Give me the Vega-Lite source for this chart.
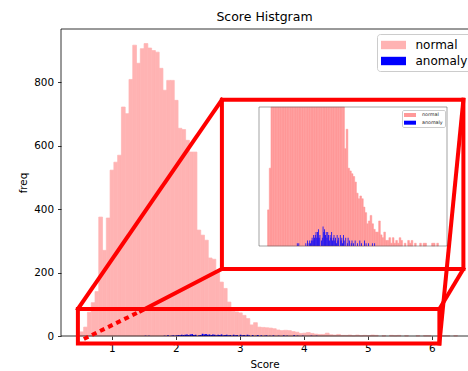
{
  "$schema": "https://vega.github.io/schema/vega-lite/v6.json",
  "width": 407,
  "height": 307,
  "autosize": {"type": "none"},
  "padding": {"left": 61, "top": 29, "right": 0, "bottom": 35},
  "background": "white",
  "title": {"text": "Score Histgram", "fontSize": 12.5, "fontWeight": "normal", "font": "DejaVu Sans", "color": "black", "anchor": "middle", "frame": "group", "baseline": "alphabetic", "offset": 7.5, "dy": 12},
  "config": {
    "font": "DejaVu Sans",
    "view": {"stroke": null},
    "axis": {"grid": false, "labelFont": "DejaVu Sans", "titleFont": "DejaVu Sans", "labelColor": "black", "titleColor": "black", "titleFontWeight": "normal", "tickColor": "black", "domainColor": "black", "zindex": 1}
  },
  "datasets": {
    "normal": [
      {"lo": 0.500, "hi": 0.559, "n": 13}, {"lo": 0.559, "hi": 0.618, "n": 28}, {"lo": 0.618, "hi": 0.677, "n": 75},
      {"lo": 0.677, "hi": 0.736, "n": 105}, {"lo": 0.736, "hi": 0.795, "n": 140}, {"lo": 0.795, "hi": 0.854, "n": 375},
      {"lo": 0.854, "hi": 0.913, "n": 270}, {"lo": 0.913, "hi": 0.972, "n": 372}, {"lo": 0.972, "hi": 1.031, "n": 523},
      {"lo": 1.031, "hi": 1.090, "n": 548}, {"lo": 1.090, "hi": 1.149, "n": 570}, {"lo": 1.149, "hi": 1.208, "n": 722},
      {"lo": 1.208, "hi": 1.267, "n": 701}, {"lo": 1.267, "hi": 1.326, "n": 809}, {"lo": 1.326, "hi": 1.385, "n": 917},
      {"lo": 1.385, "hi": 1.444, "n": 860}, {"lo": 1.444, "hi": 1.503, "n": 906}, {"lo": 1.503, "hi": 1.562, "n": 922},
      {"lo": 1.562, "hi": 1.621, "n": 908}, {"lo": 1.621, "hi": 1.680, "n": 900}, {"lo": 1.680, "hi": 1.739, "n": 895},
      {"lo": 1.739, "hi": 1.798, "n": 844}, {"lo": 1.798, "hi": 1.857, "n": 775}, {"lo": 1.857, "hi": 1.916, "n": 806},
      {"lo": 1.916, "hi": 1.975, "n": 806}, {"lo": 1.975, "hi": 2.034, "n": 743}, {"lo": 2.034, "hi": 2.093, "n": 655},
      {"lo": 2.093, "hi": 2.152, "n": 651}, {"lo": 2.152, "hi": 2.211, "n": 617}, {"lo": 2.211, "hi": 2.270, "n": 580},
      {"lo": 2.270, "hi": 2.329, "n": 580}, {"lo": 2.329, "hi": 2.388, "n": 334}, {"lo": 2.388, "hi": 2.447, "n": 318},
      {"lo": 2.447, "hi": 2.506, "n": 302}, {"lo": 2.506, "hi": 2.565, "n": 246}, {"lo": 2.565, "hi": 2.624, "n": 242},
      {"lo": 2.624, "hi": 2.683, "n": 205}, {"lo": 2.683, "hi": 2.742, "n": 170}, {"lo": 2.742, "hi": 2.801, "n": 150},
      {"lo": 2.801, "hi": 2.860, "n": 107}, {"lo": 2.860, "hi": 2.919, "n": 78}, {"lo": 2.919, "hi": 2.978, "n": 76},
      {"lo": 2.978, "hi": 3.037, "n": 73}, {"lo": 3.037, "hi": 3.096, "n": 65}, {"lo": 3.096, "hi": 3.155, "n": 55},
      {"lo": 3.155, "hi": 3.214, "n": 35}, {"lo": 3.214, "hi": 3.273, "n": 42}, {"lo": 3.273, "hi": 3.332, "n": 28},
      {"lo": 3.332, "hi": 3.391, "n": 27}, {"lo": 3.391, "hi": 3.450, "n": 26}, {"lo": 3.450, "hi": 3.509, "n": 25},
      {"lo": 3.509, "hi": 3.568, "n": 23}, {"lo": 3.568, "hi": 3.627, "n": 19}, {"lo": 3.627, "hi": 3.686, "n": 17},
      {"lo": 3.686, "hi": 3.745, "n": 18}, {"lo": 3.745, "hi": 3.804, "n": 17}, {"lo": 3.804, "hi": 3.863, "n": 14},
      {"lo": 3.863, "hi": 3.922, "n": 12}, {"lo": 3.922, "hi": 3.981, "n": 8}, {"lo": 3.981, "hi": 4.040, "n": 9},
      {"lo": 4.040, "hi": 4.099, "n": 11}, {"lo": 4.099, "hi": 4.158, "n": 8}, {"lo": 4.158, "hi": 4.217, "n": 6},
      {"lo": 4.217, "hi": 4.276, "n": 5}, {"lo": 4.276, "hi": 4.335, "n": 5}, {"lo": 4.335, "hi": 4.394, "n": 9},
      {"lo": 4.394, "hi": 4.453, "n": 4}, {"lo": 4.453, "hi": 4.512, "n": 3}, {"lo": 4.512, "hi": 4.571, "n": 5},
      {"lo": 4.571, "hi": 4.630, "n": 2}, {"lo": 4.630, "hi": 4.689, "n": 2}, {"lo": 4.689, "hi": 4.748, "n": 3},
      {"lo": 4.748, "hi": 4.807, "n": 1}, {"lo": 4.807, "hi": 4.866, "n": 3}, {"lo": 4.866, "hi": 4.925, "n": 1},
      {"lo": 4.925, "hi": 4.984, "n": 2}, {"lo": 4.984, "hi": 5.043, "n": 1}, {"lo": 5.043, "hi": 5.102, "n": 3},
      {"lo": 5.102, "hi": 5.161, "n": 2}, {"lo": 5.220, "hi": 5.279, "n": 1}, {"lo": 5.338, "hi": 5.397, "n": 2},
      {"lo": 5.397, "hi": 5.456, "n": 1}, {"lo": 5.456, "hi": 5.515, "n": 2}, {"lo": 5.574, "hi": 5.633, "n": 1},
      {"lo": 5.751, "hi": 5.810, "n": 1}, {"lo": 5.869, "hi": 5.928, "n": 1}, {"lo": 5.928, "hi": 5.987, "n": 1},
      {"lo": 6.164, "hi": 6.223, "n": 1}, {"lo": 6.223, "hi": 6.282, "n": 1}, {"lo": 6.341, "hi": 6.400, "n": 1}
    ],
    "anomaly": [
      {"lo": 1.512, "hi": 1.539, "n": 1}, {"lo": 1.566, "hi": 1.593, "n": 1}, {"lo": 1.809, "hi": 1.836, "n": 1},
      {"lo": 1.863, "hi": 1.890, "n": 2}, {"lo": 1.917, "hi": 1.944, "n": 1}, {"lo": 1.944, "hi": 1.971, "n": 2},
      {"lo": 1.971, "hi": 1.998, "n": 1}, {"lo": 1.998, "hi": 2.025, "n": 2}, {"lo": 2.025, "hi": 2.052, "n": 3},
      {"lo": 2.052, "hi": 2.079, "n": 2}, {"lo": 2.079, "hi": 2.106, "n": 4}, {"lo": 2.106, "hi": 2.133, "n": 3},
      {"lo": 2.133, "hi": 2.160, "n": 4}, {"lo": 2.160, "hi": 2.187, "n": 5}, {"lo": 2.187, "hi": 2.214, "n": 3},
      {"lo": 2.214, "hi": 2.241, "n": 5}, {"lo": 2.241, "hi": 2.268, "n": 6}, {"lo": 2.268, "hi": 2.295, "n": 3},
      {"lo": 2.295, "hi": 2.322, "n": 4}, {"lo": 2.349, "hi": 2.376, "n": 2}, {"lo": 2.376, "hi": 2.403, "n": 3},
      {"lo": 2.403, "hi": 2.430, "n": 7}, {"lo": 2.430, "hi": 2.457, "n": 5}, {"lo": 2.457, "hi": 2.484, "n": 6},
      {"lo": 2.484, "hi": 2.511, "n": 4}, {"lo": 2.511, "hi": 2.538, "n": 5}, {"lo": 2.538, "hi": 2.565, "n": 3},
      {"lo": 2.565, "hi": 2.592, "n": 5}, {"lo": 2.592, "hi": 2.619, "n": 4}, {"lo": 2.619, "hi": 2.646, "n": 2},
      {"lo": 2.646, "hi": 2.673, "n": 4}, {"lo": 2.673, "hi": 2.700, "n": 3}, {"lo": 2.700, "hi": 2.727, "n": 5},
      {"lo": 2.727, "hi": 2.754, "n": 2}, {"lo": 2.754, "hi": 2.781, "n": 3}, {"lo": 2.781, "hi": 2.808, "n": 4},
      {"lo": 2.808, "hi": 2.835, "n": 2}, {"lo": 2.835, "hi": 2.862, "n": 3}, {"lo": 2.862, "hi": 2.889, "n": 1},
      {"lo": 2.889, "hi": 2.916, "n": 4}, {"lo": 2.916, "hi": 2.943, "n": 2}, {"lo": 2.943, "hi": 2.970, "n": 3},
      {"lo": 2.997, "hi": 3.024, "n": 4}, {"lo": 3.024, "hi": 3.051, "n": 2}, {"lo": 3.051, "hi": 3.078, "n": 3},
      {"lo": 3.078, "hi": 3.105, "n": 1}, {"lo": 3.105, "hi": 3.132, "n": 4}, {"lo": 3.132, "hi": 3.159, "n": 2},
      {"lo": 3.186, "hi": 3.213, "n": 3}, {"lo": 3.240, "hi": 3.267, "n": 1}, {"lo": 3.267, "hi": 3.294, "n": 3},
      {"lo": 3.321, "hi": 3.348, "n": 2}, {"lo": 3.375, "hi": 3.402, "n": 1}, {"lo": 3.402, "hi": 3.429, "n": 2},
      {"lo": 3.456, "hi": 3.483, "n": 1}, {"lo": 3.510, "hi": 3.537, "n": 2}, {"lo": 3.591, "hi": 3.618, "n": 1},
      {"lo": 3.672, "hi": 3.699, "n": 2}, {"lo": 3.726, "hi": 3.753, "n": 1}, {"lo": 3.834, "hi": 3.861, "n": 2},
      {"lo": 3.888, "hi": 3.915, "n": 1}, {"lo": 3.969, "hi": 3.996, "n": 1}, {"lo": 4.104, "hi": 4.131, "n": 1},
      {"lo": 4.185, "hi": 4.212, "n": 1}
    ],
    "boxes": [
      {"box": "inset", "x0": 2.719, "x1": 6.492, "y0": 211.6, "y1": 745},
      {"box": "zoom", "x0": 0.469, "x1": 6.117, "y0": -23.7, "y1": 85.3}
    ],
    "links": [
      {"x0": 0.469, "y0": 85.3, "x1": 2.719, "y1": 745},
      {"x0": 6.117, "y0": 85.3, "x1": 6.492, "y1": 211.6},
      {"x0": 6.117, "y0": -23.7, "x1": 6.492, "y1": 745},
      {"x0": 1.453, "y0": 79, "x1": 2.719, "y1": 211.6}
    ],
    "hidden": [
      {"x0": 0.5625, "y0": -9.5, "x1": 1.453, "y1": 79}
    ]
  },
  "layer": [
    {
      "layer": [
        {
          "data": {"name": "normal"},
          "mark": {"type": "rect", "stroke": "#ffb3b3", "strokeWidth": 0.7},
          "encoding": {
            "x": {"field": "lo", "type": "quantitative", "scale": {"domain": [0.205, 6.564], "nice": false, "zero": false},
                  "axis": {"values": [1, 2, 3, 4, 5, 6], "format": "d", "title": "Score", "domain": false, "labelFontSize": 10.4, "titleFontSize": 10.4, "tickSize": 3.5, "tickWidth": 0.8, "labelPadding": 3.5, "titlePadding": 6, "labelFlush": false}},
            "x2": {"field": "hi"},
            "y": {"field": "n", "type": "quantitative", "scale": {"domain": [0, 968], "nice": false, "zero": false},
                  "axis": {"values": [0, 200, 400, 600, 800], "format": "d", "title": "freq", "domain": false, "labelFontSize": 10.4, "titleFontSize": 10.4, "tickSize": 3.5, "tickWidth": 0.8, "labelPadding": 4, "titlePadding": 5}},
            "y2": {"datum": 0},
            "color": {"datum": "normal", "type": "nominal",
                      "scale": {"domain": ["normal", "anomaly"], "range": ["#ffb3b3", "#0000ff"]},
                      "legend": {"title": null, "orient": "none", "legendX": 316, "legendY": 5, "direction": "vertical", "padding": 4, "fillColor": "rgba(255,255,255,0.8)", "strokeColor": "#cccccc", "cornerRadius": 3,
                                 "symbolType": "M-1.7857,-0.6L1.7857,-0.6L1.7857,0.6L-1.7857,0.6Z", "symbolSize": 196, "symbolOffset": 5.5, "symbolStrokeWidth": 0,
                                 "labelOffset": 15, "labelFontSize": 12, "labelFont": "DejaVu Sans", "labelColor": "black", "rowPadding": 3}}
          }
        },
        {
          "data": {"name": "anomaly"},
          "mark": {"type": "rect"},
          "encoding": {
            "x": {"field": "lo", "type": "quantitative"},
            "x2": {"field": "hi"},
            "y": {"field": "n", "type": "quantitative"},
            "y2": {"datum": 0},
            "color": {"datum": "anomaly", "type": "nominal"}
          }
        },
        {
          "data": {"values": [{}]},
          "mark": {"type": "rect", "fillOpacity": 0, "stroke": "black", "strokeWidth": 0.8},
          "encoding": {
            "x": {"datum": 0.205, "type": "quantitative"},
            "x2": {"datum": 6.695},
            "y": {"datum": 0, "type": "quantitative"},
            "y2": {"datum": 968}
          }
        },
        {
          "data": {"name": "boxes"},
          "transform": [{"filter": "datum.box == 'inset'"}],
          "mark": {"type": "rect", "fill": "white", "stroke": "#ff0000", "strokeWidth": 4},
          "encoding": {
            "x": {"field": "x0", "type": "quantitative"},
            "x2": {"field": "x1"},
            "y": {"field": "y0", "type": "quantitative"},
            "y2": {"field": "y1"}
          }
        },
        {
          "data": {"name": "boxes"},
          "transform": [{"filter": "datum.box == 'zoom'"}],
          "mark": {"type": "rect", "fillOpacity": 0, "stroke": "#ff0000", "strokeWidth": 4},
          "encoding": {
            "x": {"field": "x0", "type": "quantitative"},
            "x2": {"field": "x1"},
            "y": {"field": "y0", "type": "quantitative"},
            "y2": {"field": "y1"}
          }
        },
        {
          "data": {"name": "links"},
          "mark": {"type": "rule", "color": "#ff0000", "strokeWidth": 4, "strokeCap": "square"},
          "encoding": {
            "x": {"field": "x0", "type": "quantitative"},
            "y": {"field": "y0", "type": "quantitative"},
            "x2": {"field": "x1"},
            "y2": {"field": "y1"}
          }
        },
        {
          "data": {"name": "hidden"},
          "mark": {"type": "rule", "color": "#ff0000", "strokeWidth": 4, "strokeDash": [5, 4]},
          "encoding": {
            "x": {"field": "x0", "type": "quantitative"},
            "y": {"field": "y0", "type": "quantitative"},
            "x2": {"field": "x1"},
            "y2": {"field": "y1"}
          }
        }
      ]
    },
    {
      "layer": [
        {
          "data": {"name": "normal"},
          "mark": {"type": "rect", "stroke": "#ff9999", "strokeWidth": 0.5},
          "encoding": {
            "x": {"field": "lo", "type": "quantitative", "scale": {"domain": [0.205, 6.695], "range": [198, 386], "nice": false, "zero": false},
                  "axis": {"orient": "bottom", "offset": -90, "values": [1, 2, 3, 4, 5, 6], "format": "d", "title": "Score", "labelFontSize": 4.3, "titleFontSize": 4.6, "tickSize": 1.5, "tickWidth": 0.5, "domainWidth": 0.5, "domainColor": "#444444", "tickColor": "#444444", "labelColor": "#222222", "titleColor": "#222222", "labelPadding": 1.5, "titlePadding": 2.5, "labelFlush": false}},
            "x2": {"field": "hi"},
            "y": {"field": "n", "type": "quantitative", "scale": {"domain": [0, 50], "range": [217, 78], "nice": false, "zero": false, "clamp": true},
                  "axis": {"orient": "left", "offset": -198, "values": [0, 10, 20, 30, 40], "format": "d", "title": "freq", "labelFontSize": 4.3, "titleFontSize": 4.6, "tickSize": 1.5, "tickWidth": 0.5, "domainWidth": 0.5, "domainColor": "#444444", "tickColor": "#444444", "labelColor": "#222222", "titleColor": "#222222", "labelPadding": 2, "titlePadding": 2.5}},
            "y2": {"datum": 0},
            "color": {"datum": "normal", "type": "nominal",
                      "scale": {"domain": ["normal", "anomaly"], "range": ["#ff9999", "#0000ff"]},
                      "legend": {"title": null, "orient": "none", "legendX": 341, "legendY": 81, "direction": "vertical", "padding": 2, "fillColor": "rgba(255,255,255,0.8)", "strokeColor": "#cccccc", "cornerRadius": 1.5,
                                 "symbolType": "M-2,-0.6667L2,-0.6667L2,0.6667L-2,0.6667Z", "symbolSize": 36, "symbolOffset": 3, "symbolStrokeWidth": 0,
                                 "labelOffset": 9, "labelFontSize": 4.8, "labelFont": "DejaVu Sans", "labelColor": "#222222", "rowPadding": 1.7}}
          }
        },
        {
          "data": {"name": "anomaly"},
          "mark": {"type": "rect"},
          "encoding": {
            "x": {"field": "lo", "type": "quantitative"},
            "x2": {"field": "hi"},
            "y": {"field": "n", "type": "quantitative"},
            "y2": {"datum": 0},
            "color": {"datum": "anomaly", "type": "nominal"}
          }
        },
        {
          "data": {"values": [{}]},
          "mark": {"type": "rect", "fillOpacity": 0, "stroke": "#444444", "strokeWidth": 0.5},
          "encoding": {
            "x": {"datum": 0.205, "type": "quantitative"},
            "x2": {"datum": 6.695},
            "y": {"datum": 0, "type": "quantitative"},
            "y2": {"datum": 50}
          }
        }
      ]
    }
  ],
  "resolve": {"scale": {"x": "independent", "y": "independent", "color": "independent"}, "legend": {"color": "independent"}}
}
